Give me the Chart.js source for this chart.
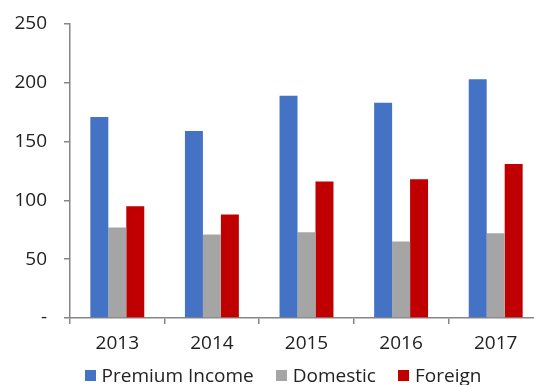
<!DOCTYPE html>
<html>
<head>
<meta charset="utf-8">
<script src="https://cdn.jsdelivr.net/npm/chart.js@4"></script>
<style>
  html, body { margin: 0; padding: 0; overflow: hidden; background: #fff; }
  #wrap { position: relative; width: 534px; height: 385px; overflow: hidden; }
  #chart { position: absolute; left: 0; top: 0; }
  #legend {
    position: absolute; left: 0; top: 364px; width: 566px;
    display: flex; justify-content: center; align-items: center;
    font-family: "Open Sans", sans-serif; font-size: 19px; color: #222; line-height: 22px;
  }
  #legend .item { display: flex; align-items: center; margin: 0 11px; }
  #legend .box { width: 11px; height: 11px; margin-right: 6px; }
</style>
</head>
<body>
<div id="wrap">
  <canvas id="chart" width="560" height="385"></canvas>
  <div id="legend"></div>
</div>
<script>
// Chart data
const years = ['2013', '2014', '2015', '2016', '2017'];
const premiumIncome = [171, 159, 189, 183, 203];
const domestic = [77, 71, 73, 65, 72];
const foreign = [95, 88, 116, 118, 131];
const seriesNames = ['Premium Income', 'Domestic', 'Foreign'];
const seriesColors = ['#4472C4', '#A5A5A5', '#C00000'];
const yTicks = [0, 50, 100, 150, 200, 250];

document.addEventListener('DOMContentLoaded', () => {
    const ctx = document.getElementById('chart').getContext('2d');
    const values = [premiumIncome, domestic, foreign];
    const axisColor = '#868686';
    const tickFont = { family: '"Open Sans", sans-serif', size: 19 };

    new Chart(ctx, {
        type: 'bar',
        data: {
            labels: years,
            datasets: seriesNames.map((name, i) => ({
                label: name,
                data: values[i],
                backgroundColor: seriesColors[i],
                borderWidth: 0,
                categoryPercentage: 0.57,
                barPercentage: 1.0
            }))
        },
        options: {
            responsive: false,
            animation: false,
            devicePixelRatio: 1,
            layout: { padding: { left: 0, right: 17, top: 24, bottom: 25 } },
            plugins: {
                legend: { display: false },
                tooltip: { enabled: false }
            },
            scales: {
                x: {
                    grid: {
                        offset: true,
                        drawOnChartArea: false,
                        tickLength: 6,
                        color: axisColor,
                        lineWidth: 1.5
                    },
                    border: { color: axisColor, width: 1.5 },
                    ticks: { color: '#222', font: tickFont, padding: 8, maxRotation: 0 },
                    afterFit: (scale) => { scale.height = 42; }
                },
                y: {
                    min: 0,
                    max: 250,
                    afterBuildTicks: (scale) => {
                        scale.ticks = yTicks.map(v => ({ value: v }));
                    },
                    grid: {
                        drawOnChartArea: false,
                        tickLength: 6,
                        color: axisColor,
                        lineWidth: 1.5
                    },
                    border: { color: axisColor, width: 1.5 },
                    ticks: {
                        color: '#222',
                        font: tickFont,
                        padding: 17,
                        callback: (v) => v === 0 ? '-' : v
                    },
                    afterFit: (scale) => {
                        scale.width = 70;
                        scale.paddingTop = 0;
                        scale.paddingBottom = 0;
                    }
                }
            }
        }
    });

    // HTML legend
    const legend = document.getElementById('legend');
    seriesNames.forEach((name, i) => {
        const item = document.createElement('div');
        item.className = 'item';
        const box = document.createElement('span');
        box.className = 'box';
        box.style.background = seriesColors[i];
        const text = document.createElement('span');
        text.textContent = name;
        item.appendChild(box);
        item.appendChild(text);
        legend.appendChild(item);
    });
});
</script>
</body>
</html>
